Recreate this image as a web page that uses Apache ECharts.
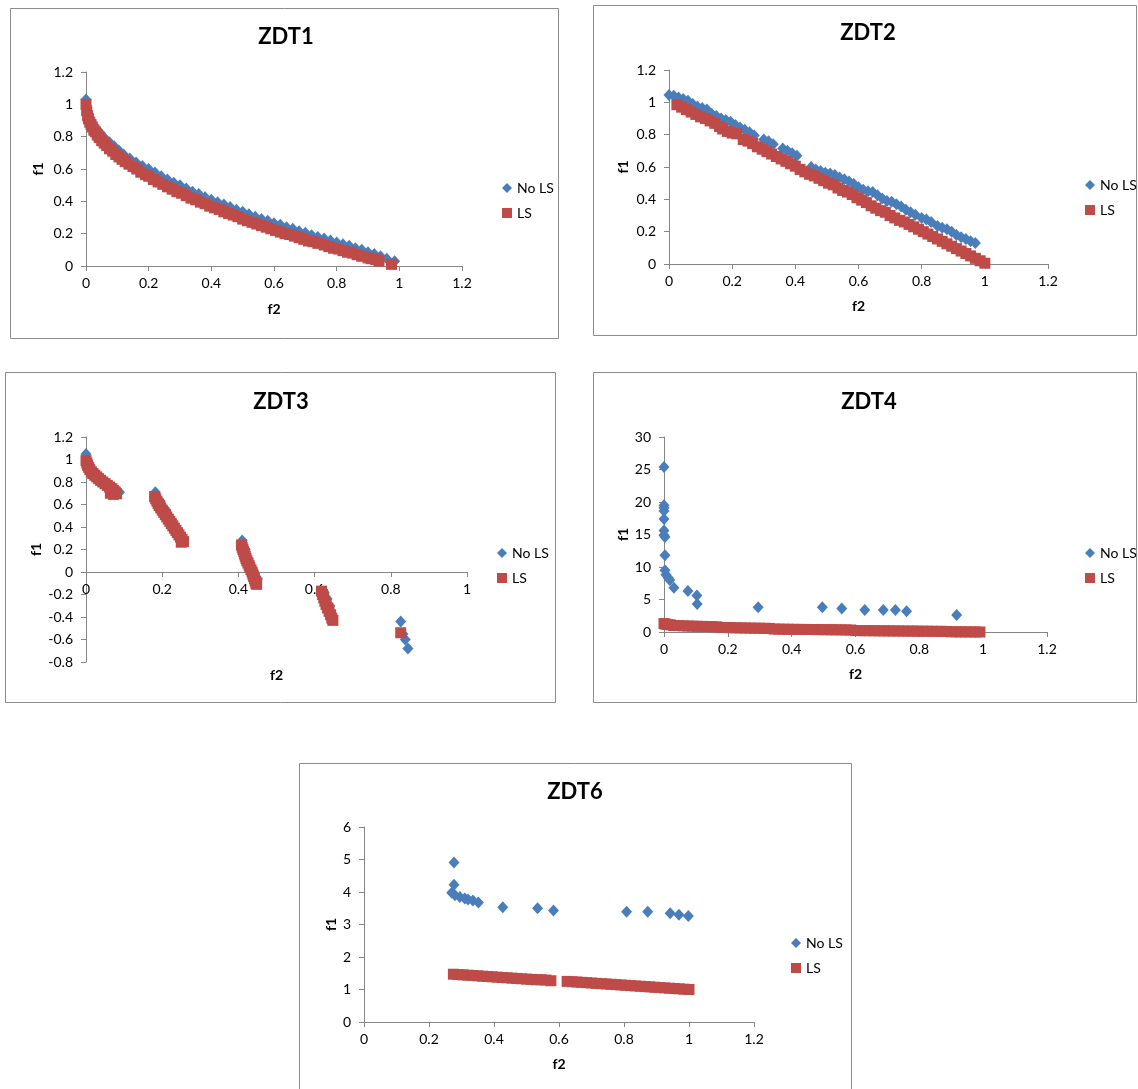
<!DOCTYPE html>
<html>
<head>
<meta charset="utf-8">
<script src="https://cdn.jsdelivr.net/npm/echarts@6/dist/echarts.min.js"></script>
<style>
html,body{margin:0;padding:0;background:#fff;}
#chart{width:1138px;height:1089px;}
</style>
</head>
<body>
<div id="chart"></div>
<script>
// ---------- DATA ----------
const panelTitles = ['ZDT1', 'ZDT2', 'ZDT3', 'ZDT4', 'ZDT6'];
const seriesNames = ['No LS', 'LS'];
const xAxisName = 'f2';
const yAxisName = 'f1';

const zdt1NoLS = [[0,1.03],[0.003,0.98],[0.008,0.94],[0.015,0.9],[0.025,0.87],[0.035,0.845],[0.045,0.825],[0.06,0.79],[0.075,0.765],[0.09,0.74],[0.105,0.715],[0.12,0.69],[0.14,0.665],[0.16,0.64],[0.18,0.618],[0.2,0.6],[0.22,0.578],[0.24,0.555],[0.26,0.535],[0.28,0.515],[0.3,0.5],[0.32,0.48],[0.34,0.46],[0.36,0.445],[0.38,0.425],[0.4,0.41],[0.42,0.395],[0.44,0.38],[0.46,0.365],[0.48,0.348],[0.5,0.335],[0.52,0.32],[0.54,0.305],[0.56,0.29],[0.58,0.28],[0.6,0.265],[0.62,0.255],[0.64,0.24],[0.66,0.23],[0.68,0.215],[0.7,0.205],[0.72,0.19],[0.74,0.18],[0.76,0.17],[0.78,0.158],[0.8,0.145],[0.82,0.135],[0.84,0.125],[0.86,0.11],[0.88,0.1],[0.9,0.085],[0.92,0.075],[0.94,0.06],[0.96,0.045],[0.985,0.03]];
const zdt1LS = [[0,1.0],[0.002,0.96],[0.005,0.93],[0.008,0.91],[0.012,0.89],[0.016,0.875],[0.02,0.86],[0.025,0.84],[0.03,0.83],[0.036,0.81],[0.042,0.795],[0.05,0.775],[0.058,0.76],[0.066,0.745],[0.075,0.725],[0.085,0.71],[0.095,0.69],[0.105,0.675],[0.115,0.66],[0.125,0.645],[0.137,0.63],[0.15,0.615],[0.162,0.6],[0.175,0.58],[0.19,0.565],[0.2,0.555],[0.215,0.535],[0.23,0.52],[0.245,0.505],[0.26,0.49],[0.275,0.475],[0.29,0.46],[0.305,0.45],[0.32,0.435],[0.335,0.42],[0.35,0.41],[0.365,0.395],[0.38,0.385],[0.395,0.37],[0.41,0.36],[0.425,0.35],[0.44,0.335],[0.455,0.325],[0.47,0.315],[0.485,0.305],[0.5,0.29],[0.515,0.28],[0.53,0.27],[0.545,0.26],[0.56,0.25],[0.575,0.24],[0.59,0.23],[0.605,0.22],[0.62,0.21],[0.635,0.2],[0.65,0.195],[0.665,0.185],[0.68,0.175],[0.695,0.165],[0.71,0.155],[0.725,0.15],[0.74,0.14],[0.76,0.13],[0.775,0.12],[0.79,0.11],[0.805,0.105],[0.82,0.095],[0.835,0.085],[0.85,0.08],[0.865,0.07],[0.88,0.06],[0.9,0.05],[0.91,0.045],[0.925,0.04],[0.935,0.03],[0.975,0.01]];

const zdt2NoLS = [[0,1.045],[0.015,1.04],[0.03,1.03],[0.045,1.02],[0.06,1.01],[0.075,0.99],[0.09,0.975],[0.105,0.965],[0.12,0.955],[0.135,0.93],[0.15,0.915],[0.165,0.9],[0.18,0.89],[0.195,0.88],[0.21,0.86],[0.225,0.845],[0.24,0.83],[0.255,0.815],[0.27,0.795],[0.3,0.77],[0.315,0.76],[0.33,0.74],[0.36,0.715],[0.375,0.7],[0.39,0.685],[0.405,0.67],[0.45,0.6],[0.465,0.585],[0.48,0.575],[0.495,0.565],[0.51,0.56],[0.525,0.55],[0.54,0.535],[0.555,0.525],[0.57,0.51],[0.585,0.495],[0.6,0.475],[0.615,0.46],[0.63,0.45],[0.645,0.445],[0.66,0.425],[0.675,0.405],[0.69,0.39],[0.705,0.385],[0.72,0.37],[0.735,0.355],[0.75,0.335],[0.765,0.32],[0.78,0.305],[0.8,0.285],[0.815,0.275],[0.83,0.26],[0.85,0.235],[0.865,0.225],[0.88,0.215],[0.895,0.2],[0.91,0.18],[0.925,0.165],[0.94,0.155],[0.955,0.14],[0.97,0.13]];
const zdt2LS = [[0.025,0.985],[0.04,0.97],[0.055,0.955],[0.07,0.94],[0.085,0.925],[0.1,0.91],[0.115,0.9],[0.13,0.885],[0.145,0.87],[0.16,0.85],[0.17,0.835],[0.185,0.82],[0.2,0.81],[0.215,0.805],[0.235,0.77],[0.25,0.76],[0.265,0.745],[0.28,0.725],[0.295,0.71],[0.31,0.695],[0.325,0.68],[0.34,0.665],[0.355,0.65],[0.37,0.635],[0.385,0.62],[0.4,0.605],[0.415,0.585],[0.43,0.57],[0.445,0.555],[0.46,0.545],[0.475,0.53],[0.49,0.515],[0.505,0.5],[0.52,0.49],[0.535,0.47],[0.55,0.455],[0.565,0.445],[0.58,0.43],[0.595,0.41],[0.61,0.395],[0.625,0.38],[0.64,0.36],[0.655,0.345],[0.67,0.33],[0.685,0.32],[0.7,0.3],[0.715,0.285],[0.73,0.27],[0.745,0.26],[0.76,0.245],[0.775,0.23],[0.79,0.215],[0.805,0.2],[0.82,0.185],[0.835,0.17],[0.85,0.155],[0.865,0.14],[0.88,0.125],[0.895,0.11],[0.91,0.095],[0.925,0.08],[0.94,0.065],[0.955,0.05],[0.97,0.035],[0.985,0.02],[1.0,0.005]];

const zdt3NoLS = [[0,1.05],[0.005,0.99],[0.015,0.92],[0.03,0.87],[0.045,0.82],[0.06,0.78],[0.075,0.745],[0.088,0.71],[0.182,0.71],[0.195,0.63],[0.21,0.55],[0.225,0.46],[0.24,0.38],[0.255,0.3],[0.41,0.28],[0.418,0.2],[0.425,0.12],[0.432,0.05],[0.44,-0.01],[0.45,-0.06],[0.625,-0.18],[0.633,-0.24],[0.64,-0.3],[0.826,-0.44],[0.832,-0.55],[0.838,-0.6],[0.845,-0.68]];
const zdt3LS = [[0,0.99],[0.002,0.97],[0.004,0.95],[0.007,0.93],[0.01,0.91],[0.014,0.89],[0.018,0.875],[0.023,0.86],[0.028,0.845],[0.033,0.83],[0.038,0.815],[0.044,0.8],[0.05,0.785],[0.056,0.77],[0.062,0.755],[0.068,0.74],[0.072,0.725],[0.076,0.71],[0.08,0.695],[0.072,0.69],[0.064,0.7],[0.18,0.67],[0.183,0.65],[0.186,0.63],[0.189,0.61],[0.192,0.59],[0.196,0.57],[0.2,0.55],[0.204,0.53],[0.208,0.51],[0.212,0.49],[0.216,0.47],[0.22,0.45],[0.224,0.43],[0.228,0.41],[0.232,0.39],[0.236,0.37],[0.24,0.35],[0.244,0.33],[0.248,0.31],[0.252,0.29],[0.256,0.27],[0.25,0.265],[0.408,0.24],[0.41,0.22],[0.412,0.2],[0.414,0.18],[0.416,0.16],[0.418,0.14],[0.42,0.12],[0.422,0.1],[0.425,0.08],[0.428,0.06],[0.43,0.04],[0.433,0.02],[0.436,0],[0.438,-0.02],[0.44,-0.04],[0.442,-0.06],[0.444,-0.08],[0.446,-0.1],[0.448,-0.11],[0.618,-0.17],[0.621,-0.2],[0.624,-0.23],[0.627,-0.26],[0.63,-0.29],[0.634,-0.32],[0.638,-0.35],[0.642,-0.38],[0.645,-0.41],[0.648,-0.43],[0.826,-0.54]];

const zdt4NoLS = [[0,25.4],[0,19.5],[0,19.1],[0,18.6],[0,17.4],[0,15.6],[0,14.9],[0.003,14.6],[0.003,11.8],[0.003,9.5],[0.006,8.8],[0.014,8.3],[0.018,8.0],[0.031,6.8],[0.075,6.3],[0.103,5.6],[0.104,4.3],[0.295,3.8],[0.496,3.8],[0.557,3.6],[0.629,3.4],[0.687,3.4],[0.725,3.4],[0.76,3.2],[0.917,2.6]];
const zdt4LS = [[0,1.3],[0.005,1.2],[0.012,1.15],[0.02,1.1],[0.03,1.0],[0.045,0.98],[0.06,0.95],[0.075,0.92],[0.09,0.9],[0.105,0.88],[0.12,0.86],[0.135,0.84],[0.15,0.82],[0.165,0.8],[0.18,0.7],[0.195,0.68],[0.21,0.66],[0.225,0.64],[0.24,0.63],[0.255,0.62],[0.27,0.6],[0.285,0.59],[0.3,0.58],[0.315,0.57],[0.33,0.55],[0.345,0.45],[0.36,0.44],[0.375,0.43],[0.39,0.42],[0.405,0.41],[0.42,0.4],[0.435,0.4],[0.45,0.39],[0.465,0.38],[0.48,0.37],[0.495,0.36],[0.51,0.35],[0.525,0.35],[0.54,0.34],[0.555,0.33],[0.57,0.32],[0.585,0.31],[0.6,0.22],[0.615,0.21],[0.63,0.2],[0.645,0.2],[0.66,0.19],[0.675,0.18],[0.69,0.18],[0.705,0.17],[0.72,0.16],[0.735,0.16],[0.75,0.15],[0.765,0.14],[0.78,0.14],[0.795,0.13],[0.81,0.12],[0.825,0.12],[0.84,0.11],[0.855,0.1],[0.87,0.1],[0.885,0.09],[0.9,0.03],[0.915,0.03],[0.93,0.02],[0.945,0.02],[0.96,0.01],[0.975,0.01],[0.99,0.0]];

const zdt6NoLS = [[0.277,4.91],[0.277,4.22],[0.27,3.98],[0.28,3.9],[0.295,3.85],[0.31,3.8],[0.32,3.77],[0.335,3.74],[0.352,3.68],[0.427,3.53],[0.534,3.5],[0.583,3.43],[0.808,3.39],[0.873,3.39],[0.942,3.35],[0.969,3.3],[0.998,3.26]];
const zdt6LS = [[0.275,1.47],[0.29,1.46],[0.305,1.45],[0.32,1.44],[0.335,1.43],[0.35,1.42],[0.365,1.41],[0.38,1.4],[0.395,1.39],[0.41,1.38],[0.425,1.37],[0.44,1.36],[0.455,1.35],[0.47,1.34],[0.485,1.33],[0.5,1.32],[0.515,1.31],[0.53,1.3],[0.545,1.3],[0.56,1.29],[0.575,1.27],[0.625,1.25],[0.64,1.24],[0.655,1.23],[0.67,1.22],[0.685,1.21],[0.7,1.2],[0.715,1.19],[0.73,1.18],[0.745,1.17],[0.76,1.16],[0.775,1.15],[0.79,1.14],[0.805,1.13],[0.82,1.12],[0.835,1.11],[0.85,1.1],[0.865,1.09],[0.88,1.08],[0.895,1.07],[0.91,1.06],[0.925,1.05],[0.94,1.04],[0.955,1.03],[0.97,1.02],[0.985,1.01],[1.0,1.0]];

// axis ranges [min, max, step]
const xRanges = [[0,1.2,0.2],[0,1.2,0.2],[0,1,0.2],[0,1.2,0.2],[0,1.2,0.2]];
const yRanges = [[0,1.2,0.2],[0,1.2,0.2],[-0.8,1.2,0.2],[0,30,5],[0,6,1]];

// ---------- LAYOUT / STYLE ----------
const FONT = 'Lato, "Open Sans", "Liberation Sans", sans-serif';
const BLUE = '#4A7EBB', RED = '#BE4B48', AXIS = '#868686';

// xOffset: shift of the horizontal axis from the grid bottom (ZDT3 axis crosses at f1 = 0)
const panels = [
  {box:[10,8,548,330], grid:{left:86, top:72, width:376, height:194}, title:[286,37], legend:[497,176], yGap:41, xGap:36, xOffset:0},
  {box:[593,5,543,330], grid:{left:669, top:70, width:379, height:194}, title:[868,33], legend:[1080,173], yGap:39, xGap:35, xOffset:0},
  {box:[5,372,550,330], grid:{left:86, top:437, width:381, height:225}, title:[281,402], legend:[492,541], yGap:43, xGap:96, xOffset:-90},
  {box:[593,372,543,330], grid:{left:664, top:437, width:383, height:195}, title:[869,402], legend:[1080,541], yGap:34, xGap:35, xOffset:0},
  {box:[299,763,552,340], grid:{left:364, top:827, width:390, height:195}, title:[575,792], legend:[786,931], yGap:26, xGap:35, xOffset:0}
];
const seriesData = [[zdt1NoLS, zdt1LS],[zdt2NoLS, zdt2LS],[zdt3NoLS, zdt3LS],[zdt4NoLS, zdt4LS],[zdt6NoLS, zdt6LS]];

const option = {
  backgroundColor:'#fff',
  animation:false,
  textStyle:{fontFamily:FONT},
  grid:[], xAxis:[], yAxis:[], series:[], legend:[], graphic:[]
};

panels.forEach((p, i) => {
  option.grid.push(Object.assign({containLabel:false}, p.grid));
  const axisCommon = {
    type:'value',
    splitLine:{show:false},
    axisLine:{show:true, onZero:false, lineStyle:{color:AXIS, width:1}},
    axisTick:{show:true, length:5, lineStyle:{color:AXIS}},
    axisLabel:{color:'#000', fontSize:14, fontFamily:FONT},
    nameLocation:'middle',
    nameMoveOverlap:false,
    nameTextStyle:{fontSize:14, fontWeight:'bold', color:'#000', fontFamily:FONT}
  };
  option.xAxis.push(Object.assign({}, axisCommon, {
    gridIndex:i, position:'bottom', offset:p.xOffset,
    min:xRanges[i][0], max:xRanges[i][1], interval:xRanges[i][2],
    name:xAxisName, nameGap:p.xGap,
    axisLabel:Object.assign({}, axisCommon.axisLabel, {margin:10})
  }));
  option.yAxis.push(Object.assign({}, axisCommon, {
    gridIndex:i, position:'left',
    min:yRanges[i][0], max:yRanges[i][1], interval:yRanges[i][2],
    name:yAxisName, nameGap:p.yGap, nameRotate:90,
    axisLabel:Object.assign({}, axisCommon.axisLabel, {margin:13})
  }));
  option.series.push({
    type:'scatter', name:seriesNames[0], xAxisIndex:i, yAxisIndex:i,
    symbol:'diamond', symbolSize:[11,12], itemStyle:{color:BLUE, opacity:1},
    data:seriesData[i][0], clip:false, z:2
  });
  option.series.push({
    type:'scatter', name:seriesNames[1], xAxisIndex:i, yAxisIndex:i,
    symbol:'rect', symbolSize:[11,11], itemStyle:{color:RED, opacity:1},
    data:seriesData[i][1], clip:false, z:3
  });
  option.legend.push({
    orient:'vertical', left:p.legend[0], top:p.legend[1],
    itemWidth:10, itemHeight:10, itemGap:11,
    textStyle:{fontSize:14, color:'#000', fontFamily:FONT},
    data:[{name:seriesNames[0], icon:'diamond'},{name:seriesNames[1], icon:'rect'}],
    selectedMode:false
  });
  option.graphic.push({
    type:'rect', silent:true, z:-10,
    shape:{x:p.box[0]+0.5, y:p.box[1]+0.5, width:p.box[2], height:p.box[3]},
    style:{fill:'none', stroke:'#8c8c8c', lineWidth:1}
  });
  option.graphic.push({
    type:'text', silent:true,
    x:p.title[0], y:p.title[1],
    style:{text:panelTitles[i], fontSize:22, fontWeight:'bold', fontFamily:FONT, fill:'#000', align:'center', verticalAlign:'middle'}
  });
});

const chart = echarts.init(document.getElementById('chart'), null, {renderer:'canvas'});
chart.setOption(option);
</script>
</body>
</html>
